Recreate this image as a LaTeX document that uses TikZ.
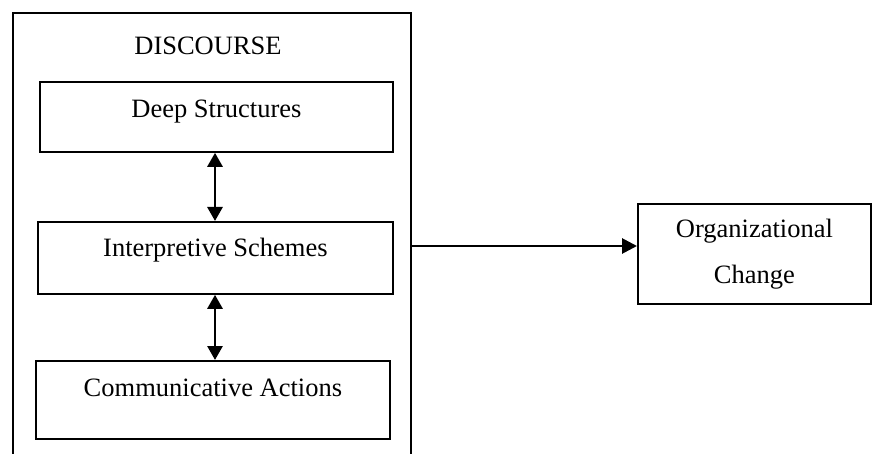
\documentclass[tikz,border=0pt]{standalone}
\usepackage{fontspec}
\setmainfont{Liberation Serif}
\usetikzlibrary{arrows.meta}
\begin{document}
\begin{tikzpicture}[x=1pt,y=1pt,
  box/.style={draw,line width=1.8pt,rectangle,inner sep=0pt,font=\fontsize{26.5}{30}\selectfont},
  link/.style={line width=2.8pt,{Triangle[length=14pt,width=15pt]}-{Triangle[length=14pt,width=15pt]}},
  oneway/.style={line width=2.8pt,-{Triangle[length=15pt,width=15pt]}}]
\useasboundingbox (0,0) rectangle (872,-454);
\clip (0,0) rectangle (872,-454);
\node[box,minimum width=398pt,minimum height=460pt,anchor=north west] (outer) at (12,-12) {};
\node[font=\fontsize{26.5}{30}\selectfont,anchor=base] (title) at (208,-55) {DISCOURSE};
\node[box,minimum width=353pt,text height=36pt,text depth=34pt,anchor=north west] (deep) at (39,-81) {Deep Structures};
\node[box,minimum width=355pt,text height=35pt,text depth=37pt,anchor=north west] (interp) at (37,-221) {Interpretive Schemes};
\node[box,minimum width=354pt,text height=36pt,text depth=42pt,anchor=north west] (comm) at (35,-360) {Communicative Actions};
\node[box,minimum width=233pt,minimum height=100pt,align=center,font=\fontsize{26.5}{46}\selectfont,anchor=north west] (org) at (637,-203) {Organizational\\Change};
\coordinate (ay) at (0,-246);
\coordinate (ax) at (215,0);
\draw[link] (deep.south -| ax) -- (interp.north -| ax);
\draw[link] (interp.south -| ax) -- (comm.north -| ax);
\draw[oneway] (outer.east |- ay) -- (org.west |- ay);
\end{tikzpicture}
\end{document}
